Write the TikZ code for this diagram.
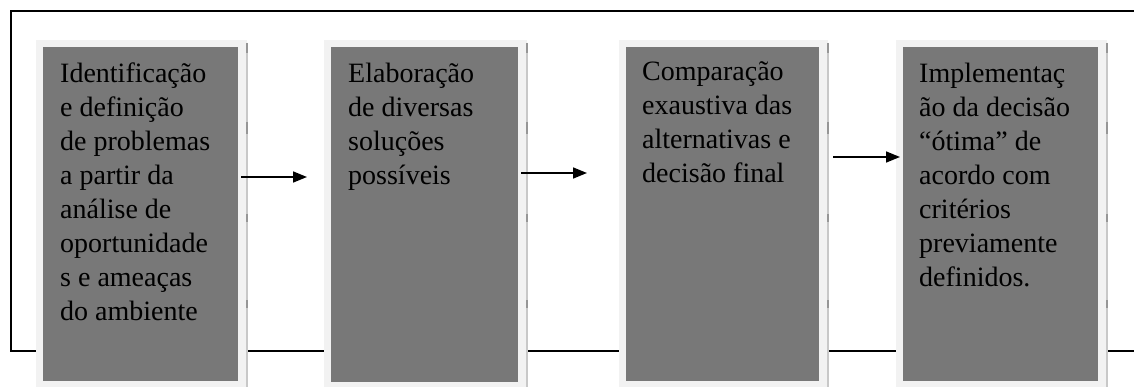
\documentclass[tikz,border=0pt]{standalone}
\usepackage{fontspec}
\setmainfont{Liberation Serif}
\usetikzlibrary{arrows.meta,calc}

\definecolor{boxfill}{RGB}{120,120,120}
\definecolor{boxhalo}{RGB}{242,242,242}
\definecolor{boxrule}{RGB}{200,200,200}
\definecolor{boxtick}{RGB}{150,150,150}

\tikzset{
  stepbox/.style={fill=boxfill, draw=none, inner sep=0pt, anchor=north west},
  steptext/.style={anchor=north west, inner sep=0pt, align=left,
    font=\fontsize{28}{34}\selectfont, text=black},
  frameline/.style={line width=2pt, draw=black},
  flow/.style={line width=1.6pt, -{Triangle[length=14pt,width=11pt]}},
  halo/.style={fill=boxhalo},
  siderule/.style={draw=boxrule, line width=2pt},
  sidetick/.style={draw=boxtick, line width=2pt},
}
\newcommand{\firstline}{\rule{0pt}{22pt}}

\begin{document}
\begin{tikzpicture}[x=1pt,y=-1pt]
  \useasboundingbox (0,0) rectangle (1134,387);
  \fill[white] (0,0) rectangle (1134,387);

  % open frame behind the steps
  \draw[frameline] (1134,11) -- (11,11) -- (11,351) -- (1134,351);

  % light halo behind each step
  \fill[halo] (36,40) rectangle (247,387);
  \fill[halo] (324,40) rectangle (527,387);
  \fill[halo] (619,40) rectangle (828,387);
  \fill[halo] (896,40) rectangle (1107,387);

  % side rules with their tick marks
  \foreach \x in {247,527,828,1107} {
    \draw[siderule] (\x,43) -- (\x,387);
    \draw[sidetick] (\x,43) -- (\x,53);
    \draw[sidetick] (\x,122) -- (\x,134);
    \draw[sidetick] (\x,214) -- (\x,222);
    \draw[sidetick] (\x,300) -- (\x,308);
  }

  % the four steps
  \node[stepbox, minimum width=195pt, minimum height=334pt] (b1) at (43,47) {};
  \node[stepbox, minimum width=187pt, minimum height=335pt] (b2) at (331,47) {};
  \node[stepbox, minimum width=193pt, minimum height=334pt] (b3) at (626,47) {};
  \node[stepbox, minimum width=195pt, minimum height=334pt] (b4) at (903,47) {};

  \node[steptext] (t1) at (60,60) {\firstline Identificação\\e definição\\de problemas\\a partir da\\análise de\\oportunidade\\s e ameaças\\do ambiente};
  \node[steptext] (t2) at (348,60) {\firstline Elaboração\\de diversas\\soluções\\possíveis};
  \node[steptext] (t3) at (642,58) {\firstline Comparação\\exaustiva das\\alternativas e\\decisão final};
  \node[steptext] (t4) at (919,60) {\firstline Implementaç\\ão da decisão\\“ótima” de\\acordo com\\critérios\\previamente\\definidos.};

  % arrows between the steps
  \coordinate (e1) at (307,177);
  \coordinate (e2) at (587,173);
  \coordinate (e3) at (900,157);
  \draw[flow] ($(b1.east |- e1)+(3,0)$) -- (e1);
  \draw[flow] ($(b2.east |- e2)+(3,0)$) -- (e2);
  \draw[flow] ($(b3.east |- e3)+(14,0)$) -- (e3);
\end{tikzpicture}
\end{document}
